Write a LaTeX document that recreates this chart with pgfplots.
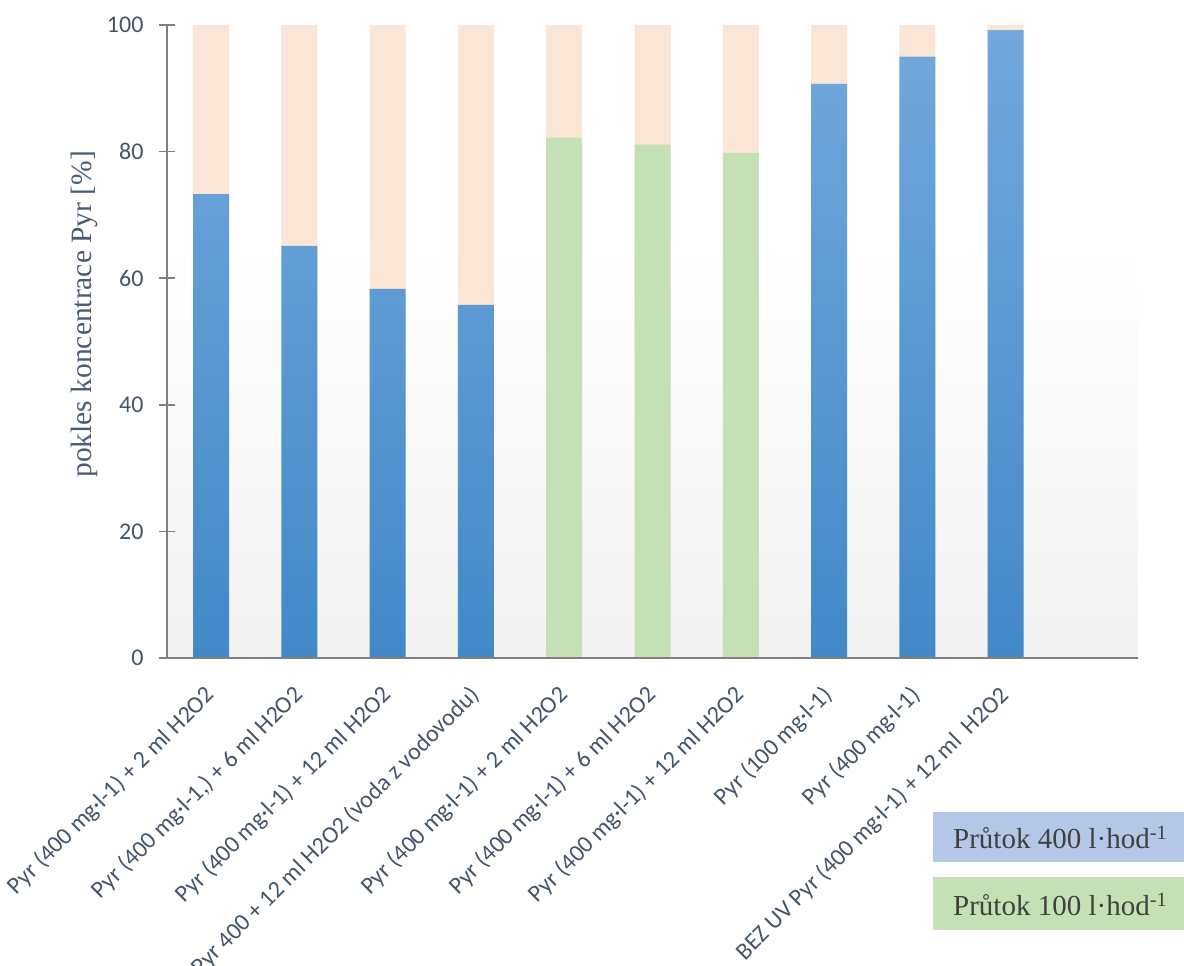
\documentclass[border=0pt]{standalone}
\usepackage{fontspec}
\setmainfont{Liberation Serif}
\newfontfamily\carlito{Carlito}
\usepackage{pgfplots}
\pgfplotsset{compat=1.18}
\definecolor{tickc}{RGB}{68,84,106}
\definecolor{labc}{RGB}{74,91,118}
\definecolor{axc}{RGB}{128,128,128}
\definecolor{peach}{RGB}{251,229,214}
\definecolor{greenb}{RGB}{197,224,180}
\definecolor{bluetop}{RGB}{114,168,220}
\definecolor{bluebot}{RGB}{66,137,200}
\definecolor{leg1}{RGB}{180,199,231}
\definecolor{leg2}{RGB}{197,224,180}
\definecolor{legt}{RGB}{64,64,64}
\begin{document}
\begin{tikzpicture}
\useasboundingbox (0bp,0bp) rectangle (1184bp,966bp);
\begin{axis}[
  at={(167bp,308bp)}, anchor=south west,
  scale only axis, width=971bp, height=633bp,
  xmin=-0.5, xmax=10.5, ymin=0, ymax=100,
  axis on top,
  axis x line*=bottom, axis y line*=left,
  axis line style={axc, line width=1.6bp, -},
  ytick={0,20,...,100},
  xtick={0,...,9},
  xticklabels={
    Pyr (400 mg·l-1) + 2 ml H2O2,
    {Pyr (400 mg·l-1,) + 6 ml H2O2},
    Pyr (400 mg·l-1) + 12 ml H2O2,
    Pyr 400 + 12 ml H2O2 (voda z vodovodu),
    Pyr (400 mg·l-1) + 2 ml H2O2,
    Pyr (400 mg·l-1) + 6 ml H2O2,
    Pyr (400 mg·l-1) + 12 ml H2O2,
    Pyr (100 mg·l-1),
    Pyr (400 mg·l-1),
    BEZ UV Pyr (400 mg·l-1) + 12 ml\ \ H2O2},
  tick align=center,
  major tick length=16bp,
  y tick style={axc, line width=1.6bp},
  x tick style={draw=none},
  /pgf/number format/assume math mode=true,
  yticklabel style={font=\carlito\fontsize{24bp}{28bp}\selectfont, text=tickc, xshift=-12bp},
  xticklabel style={font=\carlito\fontsize{24bp}{28bp}\selectfont, text=tickc, xshift=-8bp, yshift=-13bp, rotate=45, anchor=north east},
  ylabel={pokles koncentrace Pyr [\%]},
  ylabel style={font=\fontsize{29.5bp}{32bp}\selectfont, text=labc, at={(axis description cs:-0.0855,0.543)}, anchor=center, rotate=0},
  clip=false,
]
\fill[top color=white, bottom color=black!5, draw=none] (axis cs:-0.5,0) rectangle (axis cs:10.5,66);
% peach: full column top (100)
\addplot[ybar, bar width=36bp, bar shift=0pt, draw=none, fill=peach]
  coordinates {(0,100) (1,100) (2,100) (3,100) (4,100) (5,100) (6,100) (7,100) (8,100) (9,100)};
% flow 400 l/h
\addplot[ybar, bar width=36bp, bar shift=0pt, draw=none, top color=bluetop, bottom color=bluebot]
  coordinates {(0,73.3) (1,65.1) (2,58.3) (3,55.8) (7,90.7) (8,95.0) (9,99.2)};
% flow 100 l/h
\addplot[ybar, bar width=36bp, bar shift=0pt, draw=none, fill=greenb]
  coordinates {(4,82.2) (5,81.1) (6,79.8)};
\end{axis}
\fill[leg1] (933bp,104bp) rectangle (1184bp,154bp);
\fill[leg2] (933bp,36bp) rectangle (1184bp,89bp);
\node[anchor=west, text=legt, font=\fontsize{29bp}{33bp}\selectfont, inner sep=0pt] at (953bp,129bp) {Průtok 400 l·hod\textsuperscript{-1}};
\node[anchor=west, text=legt, font=\fontsize{29bp}{33bp}\selectfont, inner sep=0pt] at (953bp,62bp) {Průtok 100 l·hod\textsuperscript{-1}};
\end{tikzpicture}
\end{document}
